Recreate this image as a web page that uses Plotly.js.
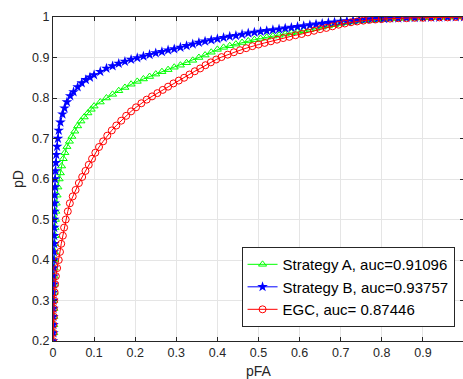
<!DOCTYPE html>
<html>
<head>
<meta charset="utf-8">
<script src="https://cdn.plot.ly/plotly-3.0.1.min.js"></script>
<style>
html, body { margin: 0; padding: 0; overflow: hidden; background: #ffffff; }
#chart { width: 463px; height: 379px; }
</style>
</head>
<body>
<div id="chart"></div>
<script>
// ---- data ----
var seriesNames = ["Strategy A, auc=0.91096", "Strategy B, auc=0.93757", "EGC, auc= 0.87446"];

var pfaA = [0,0,0.002,0.002,0.002,0.002,0.002,0.003,0.003,0.003,0.003,0.004,0.004,0.004,0.005,0.005,0.006,0.007,0.008,0.010,0.012,0.015,0.018,0.021,0.025,0.029,0.034,0.040,0.046,0.053,0.060,0.068,0.076,0.085,0.093,0.100,0.115,0.130,0.145,0.160,0.175,0.190,0.205,0.220,0.235,0.250,0.265,0.280,0.295,0.310,0.325,0.340,0.355,0.370,0.385,0.400,0.415,0.430,0.445,0.460,0.475,0.490,0.505,0.520,0.535,0.550,0.565,0.580,0.595,0.610,0.625,0.640,0.655,0.670,0.685,0.700,0.715,0.730,0.745,0.760,0.775,0.790,0.805,0.820,0.840,0.860,0.880,0.900,0.920,0.940,0.960,0.980,1.000];
var pdA  = [0.18,0.20,0.22,0.24,0.26,0.28,0.30,0.32,0.34,0.36,0.38,0.40,0.42,0.44,0.46,0.48,0.50,0.52,0.54,0.56,0.58,0.60,0.615,0.632,0.650,0.665,0.680,0.693,0.705,0.718,0.731,0.743,0.753,0.763,0.772,0.780,0.790,0.800,0.809,0.818,0.826,0.834,0.841,0.847,0.853,0.859,0.865,0.870,0.876,0.881,0.887,0.893,0.900,0.906,0.913,0.920,0.925,0.929,0.933,0.937,0.941,0.944,0.947,0.950,0.953,0.955,0.958,0.961,0.963,0.966,0.969,0.972,0.975,0.978,0.981,0.984,0.986,0.988,0.990,0.991,0.992,0.993,0.994,0.995,0.996,0.997,0.997,0.998,0.998,0.999,0.999,1.000,1.000];

var pfaB = [0,0,0.001,0.001,0.001,0.001,0.001,0.001,0.002,0.002,0.002,0.002,0.002,0.003,0.003,0.003,0.003,0.004,0.004,0.004,0.005,0.005,0.006,0.007,0.008,0.010,0.012,0.014,0.018,0.023,0.028,0.034,0.042,0.050,0.060,0.070,0.080,0.090,0.100,0.115,0.130,0.145,0.160,0.175,0.190,0.205,0.220,0.235,0.250,0.265,0.280,0.295,0.310,0.325,0.340,0.355,0.370,0.385,0.400,0.415,0.430,0.445,0.460,0.475,0.490,0.505,0.520,0.535,0.550,0.565,0.580,0.595,0.610,0.625,0.640,0.655,0.670,0.685,0.700,0.715,0.730,0.745,0.760,0.775,0.790,0.805,0.820,0.840,0.860,0.880,0.900,0.920,0.940,0.960,0.980,1.000];
var pdB  = [0.18,0.20,0.22,0.24,0.26,0.28,0.30,0.32,0.34,0.36,0.38,0.40,0.42,0.44,0.46,0.48,0.50,0.52,0.54,0.56,0.58,0.60,0.62,0.64,0.66,0.68,0.70,0.72,0.74,0.76,0.775,0.790,0.805,0.815,0.827,0.837,0.845,0.851,0.857,0.865,0.873,0.879,0.885,0.890,0.895,0.899,0.903,0.907,0.911,0.914,0.918,0.921,0.925,0.929,0.933,0.937,0.940,0.943,0.946,0.949,0.952,0.954,0.957,0.960,0.962,0.964,0.966,0.968,0.970,0.972,0.974,0.976,0.978,0.980,0.982,0.984,0.986,0.987,0.989,0.990,0.991,0.993,0.994,0.995,0.996,0.996,0.997,0.997,0.998,0.998,0.999,0.999,0.999,1.000,1.000,1.000];

var pfaEGC = [0,0,0.001,0.001,0.002,0.002,0.003,0.004,0.005,0.007,0.010,0.014,0.017,0.020,0.024,0.027,0.031,0.036,0.041,0.048,0.055,0.063,0.071,0.079,0.087,0.095,0.103,0.112,0.122,0.132,0.143,0.154,0.166,0.178,0.190,0.202,0.215,0.228,0.241,0.254,0.267,0.280,0.293,0.306,0.319,0.332,0.345,0.358,0.371,0.384,0.397,0.410,0.425,0.440,0.455,0.470,0.485,0.500,0.515,0.530,0.545,0.560,0.575,0.590,0.605,0.620,0.635,0.650,0.665,0.680,0.695,0.710,0.725,0.740,0.755,0.770,0.785,0.800,0.820,0.840,0.860,0.880,0.900,0.920,0.940,0.960,0.980,1.000];
var pdEGC  = [0.18,0.20,0.22,0.24,0.26,0.28,0.30,0.32,0.34,0.36,0.38,0.40,0.42,0.44,0.46,0.48,0.50,0.52,0.54,0.557,0.573,0.590,0.605,0.620,0.635,0.650,0.665,0.679,0.693,0.707,0.720,0.732,0.744,0.756,0.767,0.777,0.787,0.796,0.804,0.812,0.820,0.828,0.836,0.843,0.850,0.858,0.866,0.873,0.881,0.888,0.895,0.901,0.907,0.913,0.918,0.923,0.928,0.932,0.936,0.940,0.944,0.948,0.951,0.955,0.958,0.962,0.966,0.970,0.973,0.977,0.981,0.984,0.987,0.989,0.991,0.993,0.994,0.995,0.996,0.997,0.997,0.998,0.998,0.999,0.999,0.999,1.000,1.000];

var xTicks = [0,0.1,0.2,0.3,0.4,0.5,0.6,0.7,0.8,0.9,1];
var yTicks = [0.2,0.3,0.4,0.5,0.6,0.7,0.8,0.9,1];

// ---- chart ----
var axisColor = '#262626';
var gridColor = '#e5e5e5';
var fontFam = 'Liberation Sans, Arial, Helvetica, sans-serif';

var traces = [
  { x: pfaA, y: pdA, name: seriesNames[0], type: 'scatter', mode: 'lines+markers',
    line: { color: '#00ff00', width: 1 },
    marker: { symbol: 'triangle-up-open', size: 7, color: '#00ff00', line: { width: 1, color: '#00ff00' } } },
  { x: pfaB, y: pdB, name: seriesNames[1], type: 'scatter', mode: 'lines+markers',
    line: { color: '#0000ff', width: 1 },
    marker: { symbol: 'star', size: 8, color: '#0000ff', line: { width: 0 } } },
  { x: pfaEGC, y: pdEGC, name: seriesNames[2], type: 'scatter', mode: 'lines+markers',
    line: { color: '#ff0000', width: 1 },
    marker: { symbol: 'circle-open', size: 7, color: '#ff0000', line: { width: 1, color: '#ff0000' } } }
];

var layout = {
  width: 464, height: 379, autosize: false,
  margin: { l: 53, r: 0, t: 17, b: 38, pad: 0 },
  paper_bgcolor: '#ffffff', plot_bgcolor: '#ffffff',
  font: { family: fontFam, size: 12, color: axisColor },
  showlegend: true,
  legend: {
    x: 0.977, xanchor: 'right', y: 0.043, yanchor: 'bottom',
    bgcolor: '#ffffff', bordercolor: axisColor, borderwidth: 1,
    font: { family: fontFam, size: 15, color: '#000000' },
    tracegroupgap: 0, itemwidth: 30
  },
  xaxis: {
    range: [0, 1], tickvals: xTicks, ticktext: xTicks.map(String),
    showgrid: true, gridcolor: gridColor, gridwidth: 1,
    zeroline: false, showline: true, linecolor: axisColor, linewidth: 1, mirror: 'ticks',
    ticks: 'inside', ticklen: 4, tickcolor: axisColor, tickwidth: 1,
    tickfont: { family: fontFam, size: 12.5, color: axisColor },
    title: { text: 'pFA', font: { family: fontFam, size: 14, color: axisColor }, standoff: 9 },
    automargin: false
  },
  yaxis: {
    range: [0.2, 1], tickvals: yTicks, ticktext: yTicks.map(String),
    showgrid: true, gridcolor: gridColor, gridwidth: 1,
    zeroline: false, showline: true, linecolor: axisColor, linewidth: 1, mirror: 'ticks',
    ticks: 'inside', ticklen: 4, tickcolor: axisColor, tickwidth: 1,
    tickfont: { family: fontFam, size: 12.5, color: axisColor },
    title: { text: 'pD', font: { family: fontFam, size: 14, color: axisColor }, standoff: 5 },
    automargin: false
  }
};

Plotly.newPlot('chart', traces, layout, { displayModeBar: false, staticPlot: true });
</script>
</body>
</html>
